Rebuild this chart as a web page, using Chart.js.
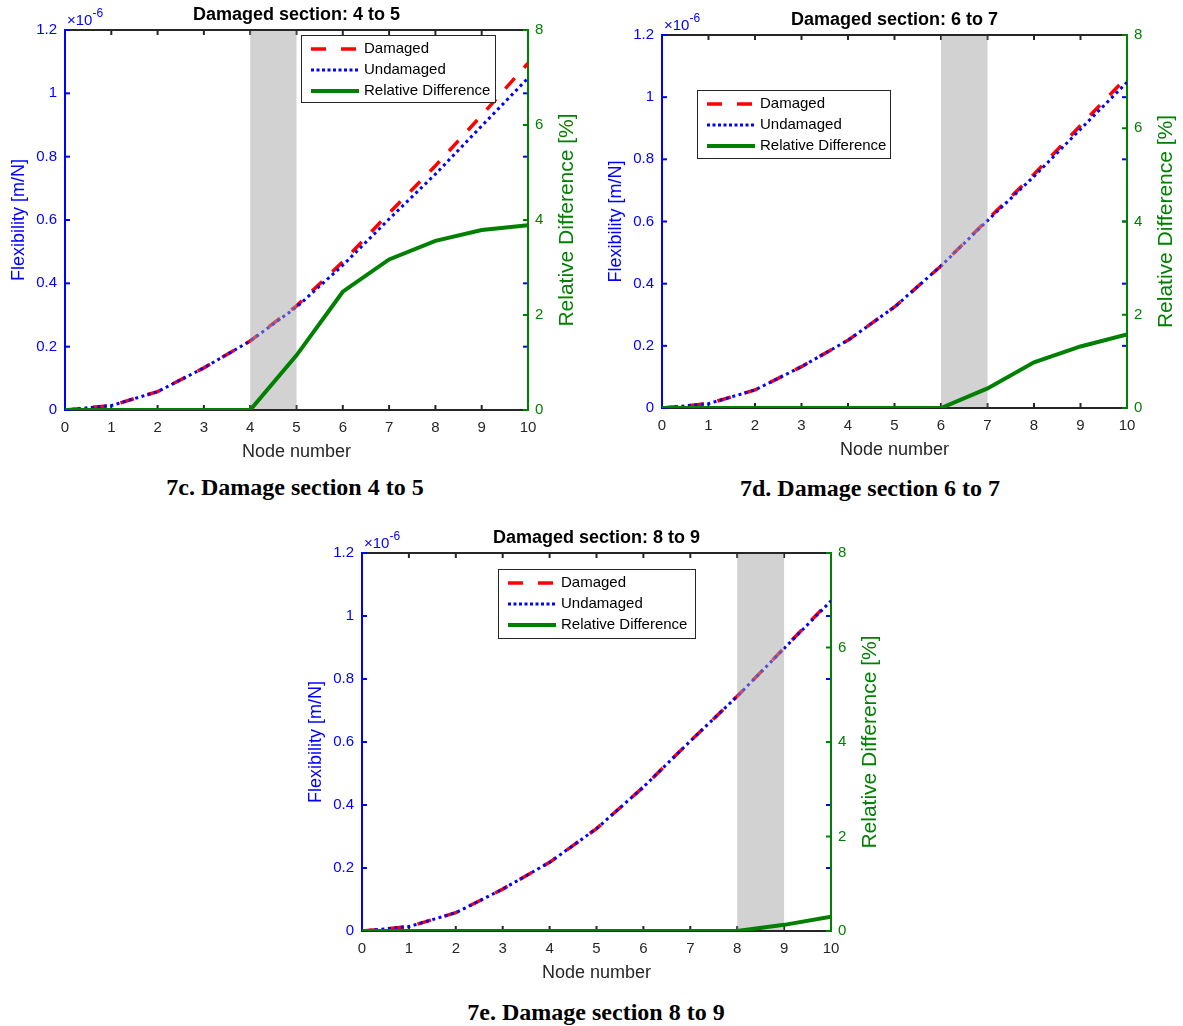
<!DOCTYPE html>
<html>
<head>
<meta charset="utf-8">
<script src="https://cdn.jsdelivr.net/npm/chart.js@4.4.1/dist/chart.umd.min.js"></script>
<style>
  body { margin: 0; background: #fff; width: 1183px; height: 1026px; position: relative; overflow: hidden; }
  canvas { position: absolute; }
  .caption {
    position: absolute; width: 400px; height: 28px; line-height: 28px;
    text-align: center; white-space: nowrap; color: #000;
    font-family: "Liberation Serif", "Times New Roman", serif; font-weight: bold; font-size: 24px;
  }
</style>
</head>
<body>
<canvas id="chart-c" width="590" height="470" style="left:0;top:0"></canvas>
<canvas id="chart-d" width="583" height="470" style="left:600px;top:0"></canvas>
<canvas id="chart-e" width="590" height="470" style="left:290px;top:520px"></canvas>
<div class="caption" style="left:95px;top:473px">7c. Damage section 4 to 5</div>
<div class="caption" style="left:670px;top:474px">7d. Damage section 6 to 7</div>
<div class="caption" style="left:396px;top:998px">7e. Damage section 8 to 9</div>
<script>
// Node positions along the beam
const nodes = [0, 1, 2, 3, 4, 5, 6, 7, 8, 9, 10];

// Flexibility [m/N] x 1e-6
const undamaged = [0, 0.014, 0.058, 0.133, 0.218, 0.325, 0.457, 0.603, 0.745, 0.897, 1.048];
const damaged45 = [0, 0.014, 0.058, 0.133, 0.218, 0.329, 0.468, 0.622, 0.771, 0.931, 1.095];
const damaged67 = [0, 0.014, 0.058, 0.133, 0.218, 0.325, 0.457, 0.606, 0.752, 0.909, 1.065];
const damaged89 = [0, 0.014, 0.058, 0.133, 0.218, 0.325, 0.457, 0.603, 0.745, 0.898, 1.051];

// Relative difference [%]
const relDiff45 = [0, 0, 0, 0, 0, 1.15, 2.49, 3.17, 3.56, 3.79, 3.89];
const relDiff67 = [0, 0, 0, 0, 0, 0, 0, 0.42, 0.98, 1.32, 1.58];
const relDiff89 = [0, 0, 0, 0, 0, 0, 0, 0, 0, 0.13, 0.30];

// Damaged sections (node from / to)
const section45 = [4, 5];
const section67 = [6, 7];
const section89 = [8, 9];

// Tick values
const xTicks = [0, 1, 2, 3, 4, 5, 6, 7, 8, 9, 10];
const flexTicks = [0, 0.2, 0.4, 0.6, 0.8, 1, 1.2];
const relTicks = [0, 2, 4, 6, 8];

const FONT = '"Liberation Sans", Arial, Helvetica, sans-serif';
const BLUE = '#0000ff';
const GREEN = '#008000';
const DARK = '#262626';

Chart.defaults.font.family = FONT;

function toPoints(values) {
    return nodes.map((n, i) => ({ x: n, y: values[i] }));
}

// Draws the MATLAB-like box, inward ticks, damaged band, titles and legend
const figurePlugin = {
    id: 'figure',
    beforeDatasetsDraw(chart) {
        const { ctx, chartArea: a, scales } = chart;
        ctx.save();
        ctx.lineWidth = 2;
        const line = (color, x0, y0, x1, y1) => {
            ctx.strokeStyle = color;
            ctx.beginPath();
            ctx.moveTo(x0, y0);
            ctx.lineTo(x1, y1);
            ctx.stroke();
        };
        const tl = 5;
        line(DARK, a.left, a.top, a.right, a.top);
        line(DARK, a.left, a.bottom, a.right, a.bottom);
        xTicks.forEach(v => {
            const px = scales.x.getPixelForValue(v);
            line(DARK, px, a.top, px, a.top + tl);
            line(DARK, px, a.bottom, px, a.bottom - tl);
        });
        flexTicks.forEach(v => {
            const py = scales.y.getPixelForValue(v);
            line(BLUE, a.left, py, a.left + tl, py);
            line(BLUE, a.right, py, a.right - tl, py);
        });
        relTicks.forEach(v => {
            const py = scales.y1.getPixelForValue(v);
            line(GREEN, a.right, py, a.right - tl, py);
        });
        line(BLUE, a.left, a.top - 1, a.left, a.bottom + 1);
        line(GREEN, a.right, a.top - 1, a.right, a.bottom + 1);
        ctx.restore();
    },
    beforeDatasetDraw(chart, args) {
        if (args.meta.yAxisID !== 'y1') return;
        const opts = chart.options.plugins.figure;
        const { ctx, chartArea: a, scales } = chart;
        const x0 = scales.x.getPixelForValue(opts.section[0]);
        const x1 = scales.x.getPixelForValue(opts.section[1]);
        ctx.save();
        ctx.fillStyle = 'rgba(166,166,166,0.5)';
        ctx.fillRect(x0, a.top + 1, x1 - x0, a.bottom - a.top - 2);
        ctx.restore();
    },
    afterDraw(chart) {
        const opts = chart.options.plugins.figure;
        const { ctx, chartArea: a } = chart;
        const cx = (a.left + a.right) / 2;
        const cy = (a.top + a.bottom) / 2;
        ctx.save();

        // title
        ctx.fillStyle = '#000';
        ctx.font = 'bold 18px ' + FONT;
        ctx.textAlign = 'center';
        ctx.textBaseline = 'middle';
        ctx.fillText(opts.title, cx, a.top - 15);

        // x axis title
        ctx.fillStyle = DARK;
        ctx.font = '18px ' + FONT;
        ctx.fillText('Node number', cx, a.bottom + 42);

        // left axis title
        ctx.save();
        ctx.translate(a.left - 46, cy);
        ctx.rotate(-Math.PI / 2);
        ctx.fillStyle = BLUE;
        ctx.fillText('Flexibility [m/N]', 0, 0);
        ctx.restore();

        // right axis title
        ctx.save();
        ctx.translate(a.right + 39, cy);
        ctx.rotate(-Math.PI / 2);
        ctx.fillStyle = GREEN;
        ctx.font = '21px ' + FONT;
        ctx.fillText('Relative Difference [%]', 0, 0);
        ctx.restore();

        // exponent label
        ctx.fillStyle = BLUE;
        ctx.textAlign = 'left';
        ctx.textBaseline = 'alphabetic';
        ctx.font = '15px ' + FONT;
        ctx.fillText('\u00d710', a.left + 2, a.top - 5);
        const w = ctx.measureText('\u00d710').width;
        ctx.font = '12px ' + FONT;
        ctx.fillText('-6', a.left + 2 + w, a.top - 13);

        // legend
        const lg = opts.legend;
        ctx.fillStyle = '#fff';
        ctx.fillRect(lg.x, lg.y, lg.w, lg.h);
        ctx.strokeStyle = DARK;
        ctx.lineWidth = 1;
        ctx.strokeRect(lg.x + 0.5, lg.y + 0.5, lg.w, lg.h);
        ctx.font = '15px ' + FONT;
        ctx.textBaseline = 'middle';
        chart.data.datasets.forEach((ds, i) => {
            const ry = lg.y + 14 + i * 21;
            ctx.save();
            ctx.strokeStyle = ds.borderColor;
            ctx.lineWidth = ds.borderWidth;
            ctx.setLineDash(ds.legendDash || []);
            ctx.beginPath();
            ctx.moveTo(lg.x + 10, ry);
            ctx.lineTo(lg.x + 58, ry);
            ctx.stroke();
            ctx.restore();
            ctx.fillStyle = '#000';
            ctx.fillText(ds.label, lg.x + 63, ry);
        });
        ctx.restore();
    }
};

function makeChart(canvasId, title, damaged, rel, section, area, legend) {
    const canvas = document.getElementById(canvasId);
    const W = canvas.width, H = canvas.height;
    const common = {
        pointRadius: 0,
        tension: 0,
        fill: false,
        borderCapStyle: 'butt'
    };
    return new Chart(canvas, {
        type: 'line',
        data: {
            datasets: [
                Object.assign({
                    label: 'Damaged', data: toPoints(damaged), yAxisID: 'y',
                    borderColor: '#ff0000', borderWidth: 3.5, borderDash: [14, 14],
                    legendDash: [15, 15], order: 2
                }, common),
                Object.assign({
                    label: 'Undamaged', data: toPoints(undamaged), yAxisID: 'y',
                    borderColor: BLUE, borderWidth: 3, borderDash: [3, 3.5],
                    legendDash: [3, 2.5], order: 1
                }, common),
                Object.assign({
                    label: 'Relative Difference', data: toPoints(rel), yAxisID: 'y1',
                    borderColor: GREEN, borderWidth: 4, order: 0
                }, common)
            ]
        },
        options: {
            responsive: false,
            animation: false,
            devicePixelRatio: 1,
            layout: { padding: { left: 0, right: 0, top: area.top, bottom: 0 } },
            plugins: {
                legend: { display: false },
                tooltip: { enabled: false },
                title: { display: false },
                figure: { title, section, legend }
            },
            scales: {
                x: {
                    type: 'linear', min: 0, max: 10,
                    afterBuildTicks: s => { s.ticks = xTicks.map(v => ({ value: v })); },
                    afterFit: s => { s.height = H - area.bottom; },
                    ticks: { color: DARK, font: { size: 15 }, padding: 9, maxRotation: 0 },
                    grid: { display: false, drawTicks: false },
                    border: { display: false }
                },
                y: {
                    position: 'left', min: 0, max: 1.2,
                    afterBuildTicks: s => { s.ticks = flexTicks.map(v => ({ value: v })); },
                    afterFit: s => { s.width = area.left; },
                    ticks: {
                        color: BLUE, font: { size: 15 }, padding: 8,
                        callback: v => String(Math.round(v * 10) / 10)
                    },
                    grid: { display: false, drawTicks: false },
                    border: { display: false }
                },
                y1: {
                    position: 'right', min: 0, max: 8,
                    afterBuildTicks: s => { s.ticks = relTicks.map(v => ({ value: v })); },
                    afterFit: s => { s.width = W - area.right; },
                    ticks: { color: GREEN, font: { size: 15 }, padding: 7 },
                    grid: { display: false, drawTicks: false },
                    border: { display: false }
                }
            }
        },
        plugins: [figurePlugin]
    });
}

makeChart('chart-c', 'Damaged section: 4 to 5', damaged45, relDiff45, section45,
    { left: 65, right: 528, top: 30, bottom: 410 }, { x: 301, y: 35, w: 194, h: 67 });
makeChart('chart-d', 'Damaged section: 6 to 7', damaged67, relDiff67, section67,
    { left: 62, right: 527, top: 35, bottom: 408 }, { x: 97, y: 90, w: 193, h: 68 });
makeChart('chart-e', 'Damaged section: 8 to 9', damaged89, relDiff89, section89,
    { left: 72, right: 541, top: 33, bottom: 411 }, { x: 208, y: 49, w: 197, h: 69 });
</script>
</body>
</html>
